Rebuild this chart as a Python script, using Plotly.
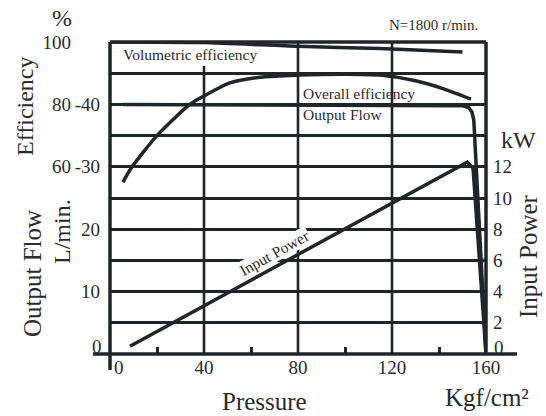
import plotly.graph_objects as go

# ---- data ----
vol_p = [0, 40, 80, 115, 150]
vol_eff = [100, 99.8, 98.6, 97.9, 96.8]

ov_p = [5.5, 9.4, 20, 34, 40, 51, 65, 80, 100, 115, 130, 142, 153.6]
ov_eff = [55.1, 60, 70, 80, 82.7, 86.9, 88.8, 89.4, 89.7, 89.4, 87.6, 85.0, 81.7]

flow_p = [5.5, 150, 152.5, 154, 154.8, 156.6, 160]
flow_lpm = [40, 39.8, 39.5, 38.8, 37.5, 24.6, 0]

pow_p = [8.5, 152, 154.5, 160]
pow_kw = [0.5, 12.3, 11.9, 0]

x_ticks = [0, 40, 80, 120, 160]
x_text = ["0", "40", "80", "120", "160"]
x_minor = [20, 60, 100, 140]
grid_x = [40, 80, 120]
flow_ticks = [0, 5, 10, 15, 20, 25, 30, 35, 40, 45, 50]
flow_text = ["0", "", "10", "", "20", "", "-30", "", "-40", "", ""]
eff_ticks = [60, 80, 100]
eff_text = ["60", "80", "100"]
kw_ticks = [0, 2, 4, 6, 8, 10, 12]
kw_text = ["0", "2", "4", "6", "8", "10", "12"]

INK = "#1f252b"
TXT = "#2b2b2b"
FONT = "Liberation Serif, Times New Roman, serif"
LW = 3.5
GW = 2.6
TICK = 19

fig = go.Figure()
fig.add_trace(go.Scatter(x=vol_p, y=vol_eff, yaxis="y3", mode="lines",
                         line=dict(color=INK, width=LW, shape="spline", smoothing=0.6),
                         hoverinfo="skip"))
fig.add_trace(go.Scatter(x=ov_p, y=ov_eff, yaxis="y3", mode="lines",
                         line=dict(color=INK, width=LW, shape="spline", smoothing=0.7),
                         hoverinfo="skip"))
fig.add_trace(go.Scatter(x=flow_p, y=flow_lpm, yaxis="y", mode="lines",
                         line=dict(color=INK, width=LW), hoverinfo="skip"))
fig.add_trace(go.Scatter(x=pow_p, y=pow_kw, yaxis="y2", mode="lines",
                         line=dict(color=INK, width=LW), hoverinfo="skip"))

W, H = 546, 416
L, R, T, B = 110, 60, 42, 62
pw, ph = W - L - R, H - T - B


def px(X):
    return (X - L) / pw


def py(Y):
    return (H - B - Y) / ph


# zero labels are placed separately (they sit just off the axis corners)
flow_axis_text = [""] + flow_text[1:]
kw_axis_text = [""] + kw_text[1:]
x_axis_text = [""] + x_text[1:]

fig.update_layout(
    width=W, height=H, autosize=False,
    margin=dict(l=L, r=R, t=T, b=B, pad=0),
    paper_bgcolor="white", plot_bgcolor="white",
    showlegend=False,
    font=dict(family=FONT, color=TXT, size=18),
    xaxis=dict(range=[0, 160], tickvals=x_ticks, ticktext=x_axis_text,
               showgrid=False, zeroline=False,
               showline=False, ticks="", tickfont=dict(size=TICK, family=FONT, color=TXT),
               minor=dict(tickvals=x_minor, ticks="inside", ticklen=7, tickwidth=GW,
                          tickcolor=INK, showgrid=False),
               fixedrange=True),
    yaxis=dict(range=[0, 50], tickvals=flow_ticks, ticktext=flow_axis_text,
               showgrid=True, gridcolor=INK, gridwidth=GW, zeroline=False,
               showline=False, ticks="", ticklabelstandoff=9,
               tickfont=dict(size=TICK, family=FONT, color=TXT), fixedrange=True),
    yaxis2=dict(range=[0, 20], tickvals=kw_ticks, ticktext=kw_axis_text, overlaying="y",
                side="right", anchor="x", showgrid=False, zeroline=False, showline=False,
                ticks="", ticklabelstandoff=6,
                tickfont=dict(size=TICK, family=FONT, color=TXT), fixedrange=True),
    yaxis3=dict(range=[0, 100], tickvals=eff_ticks, ticktext=eff_text, overlaying="y",
                side="left", anchor="x", showgrid=False, zeroline=False, showline=False,
                ticks="", ticklabelstandoff=38,
                tickfont=dict(size=TICK, family=FONT, color=TXT), fixedrange=True),
)

# frame, extended axis lines and vertical grid
shapes = [
    dict(type="line", xref="paper", yref="paper", x0=px(93), x1=px(517), y0=0, y1=0,
         line=dict(color=INK, width=LW)),
    dict(type="line", xref="paper", yref="paper", x0=0, x1=0, y0=py(370), y1=1,
         line=dict(color=INK, width=LW)),
    dict(type="line", xref="paper", yref="paper", x0=0, x1=1, y0=1, y1=1,
         line=dict(color=INK, width=LW)),
    dict(type="line", xref="paper", yref="paper", x0=1, x1=1, y0=0, y1=1,
         line=dict(color=INK, width=LW)),
]
for gx in grid_x:
    top = py(66) if gx == grid_x[0] else 1
    shapes.append(dict(type="line", xref="x", yref="paper", x0=gx, x1=gx, y0=0, y1=top,
                       line=dict(color=INK, width=GW), layer="above"))
fig.update_layout(shapes=shapes)

ann = []


def add(text, X, Y, size, angle=0, xanchor="center", bg=None):
    d = dict(text=text, xref="paper", yref="paper", x=px(X), y=py(Y), showarrow=False,
             font=dict(family=FONT, size=size, color=TXT), textangle=angle,
             xanchor=xanchor, yanchor="middle")
    if bg:
        d.update(bgcolor=bg, borderpad=0)
    ann.append(d)


add("%", 62, 18, 24)
add("Efficiency", 25, 106, 24, angle=-90)
add("Output Flow", 32, 274, 25, angle=-90)
add("L/min.", 62, 232, 24, angle=-90)
add("Pressure", 264, 401, 25)
add("Kgf/cm²", 487, 397, 25)
add("kW", 518, 140, 24)
add("Input Power", 528, 256, 25, angle=-90)
add("N=1800 r/min.", 433, 25, 15)
add("Volumetric efficiency", 121, 55, 15.5, xanchor="left")
add("Overall efficiency", 301, 93, 15.5, xanchor="left")
add("Output Flow", 301, 115, 15.5, xanchor="left")

# zero labels
add(flow_text[0], 97, 346, TICK)
add(kw_text[0], 499, 347, TICK)
add(x_text[0], 119, 367, TICK)

ann.append(dict(text="Input Power", xref="x", yref="y2", x=70.2, y=6.5, showarrow=False,
                font=dict(family=FONT, size=15.5, color=TXT), textangle=-29,
                xanchor="center", yanchor="middle", bgcolor="white", borderpad=0))
fig.update_layout(annotations=ann)

fig.write_html("out.html")
